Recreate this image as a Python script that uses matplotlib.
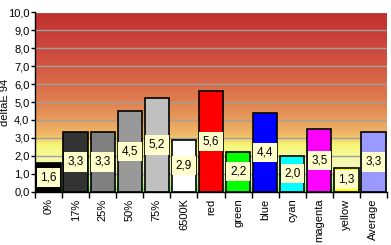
import numpy as np
import matplotlib.pyplot as plt
from matplotlib.colors import LinearSegmentedColormap

categories = ["0%", "17%", "25%", "50%", "75%", "6500K", "red", "green",
              "blue", "cyan", "magenta", "yellow", "Average"]
values = [1.6, 3.3, 3.3, 4.5, 5.2, 2.9, 5.6, 2.2, 4.4, 2.0, 3.5, 1.3, 3.3]
bar_colors = ["#000000", "#333333", "#808080", "#999999", "#c0c0c0", "#ffffff",
              "#ff0000", "#00ff00", "#0000ff", "#00ffff", "#ff00ff", "#ffff00",
              "#9999ff"]
yticks = np.arange(0, 11, 1)

plt.rcParams["font.family"] = ["Liberation Sans", "DejaVu Sans"]

fig = plt.figure(figsize=(3.91, 2.45), dpi=100)
ax = fig.add_axes([35 / 391, 1 - 191.5 / 245, 352 / 391, 179 / 245])

# background gradient: green at the bottom, yellow band, red at top
stops = [(0.0, "#70f070"), (0.05, "#c0f8a0"), (0.15, "#f4f8b8"),
         (0.26, "#f8f878"), (0.32, "#f0b868"), (0.50, "#e08050"),
         (0.75, "#d05040"), (1.0, "#c03030")]
cmap = LinearSegmentedColormap.from_list("bg", stops)
grad = np.linspace(0, 1, 256).reshape(-1, 1)
n = len(categories)
ax.imshow(grad, cmap=cmap, aspect="auto", origin="lower",
          extent=[-0.5, n - 0.5, 0, 10], zorder=0)

for y in yticks[1:]:
    ax.axhline(y, color="#a0a0a0", linewidth=1.0, zorder=1)

x = np.arange(n)
ax.bar(x, values, width=0.9, color=bar_colors, edgecolor="black",
       linewidth=1.2, zorder=2)

for xi, v in zip(x, values):
    ax.text(xi, v / 2, f"{v:.1f}".replace(".", ","), ha="center", va="center",
            fontsize=8.5, zorder=3,
            bbox=dict(boxstyle="square,pad=0.3", facecolor="#ffffcc",
                      edgecolor="none"))

ax.set_xlim(-0.5, n - 0.5)
ax.set_ylim(0, 10)
ax.set_yticks(yticks)
ax.set_yticklabels([f"{t:.1f}".replace(".", ",") for t in yticks], fontsize=8)
ax.set_xticks(x)
ax.set_xticklabels(categories, rotation=90, fontsize=8)
ax.tick_params(axis="x", length=0, pad=5)
ax.set_xticks(np.arange(-0.5, n, 1), minor=True)
ax.tick_params(axis="x", which="minor", length=4, width=1, color="black")
ax.tick_params(axis="y", length=3, width=1, pad=1)

ax.set_ylabel("deltaE 94", fontsize=8)
ax.yaxis.set_label_coords(-0.07, 0.5)

for side in ["top", "right"]:
    ax.spines[side].set_visible(False)
ax.spines["left"].set_linewidth(1)
ax.spines["bottom"].set_linewidth(1)

fig.savefig("out.png", dpi=100)
